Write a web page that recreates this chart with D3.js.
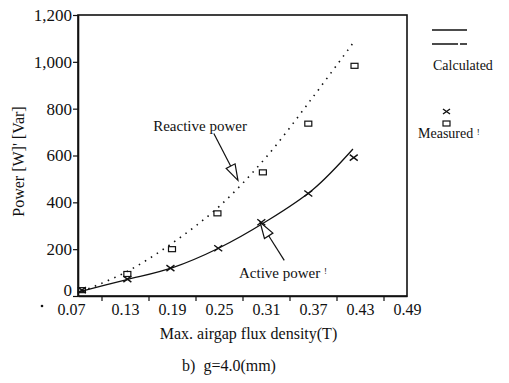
<!DOCTYPE html>
<html lang="en">
<head>
    <meta charset="UTF-8">
    <title>Power vs airgap flux density</title>
    <script src="https://d3js.org/d3.v7.min.js"></script>
    <style>
        body { margin: 0; background: #fff; }
        text { font-family: "Liberation Serif", "DejaVu Serif", serif; fill: #111; }
    </style>
</head>
<body>
    <svg id="chart" width="509" height="383"></svg>

    <script>
        // x tick labels and y ticks
        const xLabels = [0.07, 0.13, 0.19, 0.25, 0.31, 0.37, 0.43, 0.49];
        const xMinor = [0.10, 0.16, 0.22, 0.28, 0.34, 0.40, 0.46];
        const yTicks = [0, 200, 400, 600, 800, 1000, 1200];

        // calculated curves
        const activeCalcX = [0.07, 0.13, 0.19, 0.25, 0.31, 0.37, 0.421];
        const activeCalcY = [17, 68, 120, 205, 318, 455, 628];
        const reactiveCalcX = [0.075, 0.13, 0.19, 0.25, 0.31, 0.37, 0.421];
        const reactiveCalcY = [20, 100, 225, 382, 592, 850, 1080];

        // measured points
        const activeMeasX = [0.075, 0.133, 0.188, 0.249, 0.304, 0.364, 0.422];
        const activeMeasY = [25, 72, 119, 204, 315, 438, 591];
        const reactiveMeasX = [0.075, 0.133, 0.19, 0.248, 0.306, 0.364, 0.423];
        const reactiveMeasY = [25, 94, 200, 353, 528, 736, 983];

        const margin = {left: 78, top: 15, right: 102, bottom: 87};
        const width = 509, height = 383;

        const svg = d3.select("#chart");

        const x = d3.scaleLinear()
            .domain([0.07, 0.49])
            .range([margin.left, width - margin.right]);
        const y = d3.scaleLinear()
            .domain([0, 1200])
            .range([height - margin.bottom, margin.top]);

        // frame
        svg.append("rect")
            .attr("x", x(0.07))
            .attr("y", y(1200))
            .attr("width", x(0.49) - x(0.07))
            .attr("height", y(0) - y(1200))
            .attr("fill", "none")
            .attr("stroke", "#111")
            .attr("stroke-width", 1.6);

        // x axis: labels at 0.06 steps, ticks at midpoints
        const xAxis = svg.append("g")
            .attr("transform", `translate(0,${y(0)})`)
            .call(d3.axisBottom(x).tickValues(xLabels).tickFormat(d3.format(".2f")).tickSize(0).tickPadding(8));
        xAxis.select(".domain").attr("stroke", "#111").attr("stroke-width", 1.6);
        xAxis.selectAll("text").attr("font-size", 16).attr("fill", "#111");
        xAxis.selectAll(".tick").filter(d => d === 0.07).select("text").attr("dx", -7);

        const xTicks = svg.append("g")
            .attr("transform", `translate(0,${y(0)})`)
            .call(d3.axisBottom(x).tickValues(xMinor).tickFormat("").tickSize(5).tickSizeOuter(0));
        xTicks.select(".domain").remove();
        xTicks.selectAll("line").attr("stroke", "#111").attr("stroke-width", 1.2);

        // y axis
        const yAxis = svg.append("g")
            .attr("transform", `translate(${x(0.07)},0)`)
            .call(d3.axisLeft(y).tickValues(yTicks).tickFormat(d3.format(",")).tickSize(5).tickSizeOuter(0).tickPadding(1));
        yAxis.select(".domain").attr("stroke", "#111").attr("stroke-width", 1.6);
        yAxis.selectAll("line").attr("stroke", "#111").attr("stroke-width", 1.2);
        yAxis.selectAll("text").attr("font-size", 17).attr("fill", "#111");
        yAxis.selectAll(".tick").filter(d => d === 0).select("text").attr("dy", "-0.05em");

        // axis titles
        svg.append("text")
            .attr("transform", `translate(24,${(y(0) + y(1200)) / 2 + 6}) rotate(-90)`)
            .attr("text-anchor", "middle")
            .attr("font-size", 16)
            .text("Power [W]' [Var]");

        svg.append("text")
            .attr("x", (x(0.07) + x(0.49)) / 2 + 6)
            .attr("y", 339)
            .attr("text-anchor", "middle")
            .attr("font-size", 16)
            .text("Max. airgap flux density(T)");

        svg.append("text")
            .attr("x", 229)
            .attr("y", 371)
            .attr("text-anchor", "middle")
            .attr("font-size", 16)
            .attr("xml:space", "preserve")
            .text("b)  g=4.0(mm)");

        // calculated lines
        const line = d3.line()
            .x(d => x(d[0]))
            .y(d => y(d[1]))
            .curve(d3.curveCatmullRom);

        svg.append("path")
            .datum(d3.zip(activeCalcX, activeCalcY))
            .attr("d", line)
            .attr("fill", "none")
            .attr("stroke", "#111")
            .attr("stroke-width", 1.3);

        svg.append("path")
            .datum(d3.zip(reactiveCalcX, reactiveCalcY))
            .attr("d", line)
            .attr("fill", "none")
            .attr("stroke", "#111")
            .attr("stroke-width", 1.6)
            .attr("stroke-dasharray", "1.5,5.5");

        // measured markers
        const crosses = svg.append("g");
        d3.zip(activeMeasX, activeMeasY).forEach(d => {
            const cx = x(d[0]), cy = y(d[1]);
            crosses.append("path")
                .attr("d", `M${cx - 4},${cy - 3}L${cx + 4},${cy + 3}M${cx - 4},${cy + 3}L${cx + 4},${cy - 3}`)
                .attr("stroke", "#111")
                .attr("stroke-width", 1.4);
        });

        svg.append("g").selectAll("rect")
            .data(d3.zip(reactiveMeasX, reactiveMeasY))
            .join("rect")
            .attr("x", d => x(d[0]) - 3.5)
            .attr("y", d => y(d[1]) - 2.5)
            .attr("width", 7)
            .attr("height", 5)
            .attr("fill", "none")
            .attr("stroke", "#111")
            .attr("stroke-width", 1.2);

        // annotations with hollow arrow heads
        function arrow(x0, y0, x1, y1) {
            const ax = x(x0), ay = y(y0), bx = x(x1), by = y(y1);
            const ang = Math.atan2(by - ay, bx - ax);
            const len = 16, half = 5;
            const baseX = bx - len * Math.cos(ang), baseY = by - len * Math.sin(ang);
            const px = -Math.sin(ang) * half, py = Math.cos(ang) * half;
            svg.append("line")
                .attr("x1", ax).attr("y1", ay)
                .attr("x2", baseX).attr("y2", baseY)
                .attr("stroke", "#111").attr("stroke-width", 1.2);
            svg.append("path")
                .attr("d", `M${bx},${by}L${baseX + px},${baseY + py}L${baseX - px},${baseY - py}Z`)
                .attr("fill", "#fff")
                .attr("stroke", "#111")
                .attr("stroke-width", 1.2);
        }

        svg.append("text")
            .attr("x", x(0.166))
            .attr("y", y(705))
            .attr("font-size", 15)
            .text("Reactive power");
        arrow(0.2434, 694, 0.2742, 494);

        const act = svg.append("text")
            .attr("x", x(0.2755))
            .attr("y", y(77))
            .attr("font-size", 15)
            .text("Active power ");
        act.append("tspan").attr("font-size", 9).attr("dy", -4).text("!");
        arrow(0.3333, 152, 0.3025, 315);

        // legend
        const lg = svg.append("g");
        lg.append("line")
            .attr("x1", 432).attr("x2", 467).attr("y1", 30).attr("y2", 30)
            .attr("stroke", "#111").attr("stroke-width", 1.5);
        lg.append("line")
            .attr("x1", 432).attr("x2", 467).attr("y1", 44).attr("y2", 44)
            .attr("stroke", "#111").attr("stroke-width", 1.5)
            .attr("stroke-dasharray", "26,2,7");
        lg.append("text").attr("x", 433).attr("y", 70).attr("font-size", 14).text("Calculated");
        lg.append("path")
            .attr("d", "M443,109L450,114M443,114L450,109")
            .attr("stroke", "#111").attr("stroke-width", 1.4);
        lg.append("rect")
            .attr("x", 443).attr("y", 121).attr("width", 7).attr("height", 5)
            .attr("fill", "none").attr("stroke", "#111").attr("stroke-width", 1.2);
        const meas = lg.append("text").attr("x", 418).attr("y", 138).attr("font-size", 14).text("Measured ");
        meas.append("tspan").attr("font-size", 9).attr("dy", -3).text("!");

        // stray scan dot left of the origin
        svg.append("circle").attr("cx", 42).attr("cy", 306).attr("r", 1.3).attr("fill", "#111");
    </script>
</body>
</html>
